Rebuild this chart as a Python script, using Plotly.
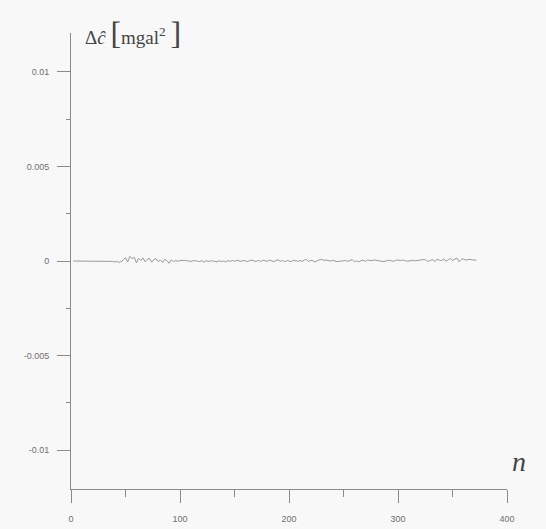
import plotly.graph_objects as go

# Spherical harmonic degree n (even degrees sampled)
degrees = list(range(2, 374, 2))

# Difference of degree variances, in units of 1e-4 mgal^2
delta_c_e4 = [
    0, 0, 0, 0, 0, 0, 0, 0, 0, 0, 0, 0, 0, 0, 0, 0, 0, 0,
    -0.2, -0.5, -0.2, -0.7, -0.3, 0.6,
    1.8, -0.5, 2.5, 1.2, 2.0, -1.0,
    1.5, 0.3, 1.6, -0.4, 0.9, 1.4, -0.6, 0.8, 1.2, -0.3,
    0.5, -0.8, 0.9, 0.2, -1.2, 0.6, -0.3, 0.4, -0.2, 0.3,
    0.1, 0.3, 0.2, 0.0, -0.2, 0.1, 0.2, -0.1, -0.3, 0.2, -0.6, 0.1, -0.2, 0.0, 0.1,
    -0.2, -0.4, 0.1, -0.3, 0.0, -0.4, 0.2, -0.2, 0.3, -0.1, 0.4, 0.0, -0.2, 0.3, 0.1, -0.3, 0.2, 0.5, 0.0, -0.2,
    0.3, -0.3, 0.4, 0.2, -0.2, 0.5, 0.1, -0.3, 0.2, 0.6, -0.1, 0.3, -0.4, 0.2, 0.0, -0.3, 0.4, 0.1, -0.2, 0.3,
    -0.2, 0.5, 0.8, -0.3, 0.4, 0.1, -0.5, 0.2, 0.6, 0.9, 0.3, 0.5, 0.2, 0.0, 0.3, -0.1, -0.3, -0.2, -0.1, 0.2,
    0.3, -0.2, 0.4, 0.8, -0.4, 0.1, -0.5, 0.2, 0.4, -0.2, 0.5, 0.3, 0.1, 0.6, 0.4, -0.1, 0.0, -0.3, -0.1, 0.2,
    0.4, 0.1, -0.2, 0.3, 0.6, 0.2, 0.5, 0.3, -0.1, 0.0, 0.2, 0.4, 0.1, 0.3, 0.2, 0.5, 0.8, 0.3, -0.2, 0.4,
    0.7, -0.3, 1.0, 0.4, 0.2, 1.2, -0.2, 0.6, 1.4, 0.3, 0.8, 1.6, -0.4, 0.9, 1.1, 0.5, 0.7, 0.9, 0.6, 0.5, 0.4,
]
UNIT = 1e-4
delta_c = [v * UNIT for v in delta_c_e4]

x_ticks = [0, 100, 200, 300, 400]
x_tick_labels = ["0", "100", "200", "300", "400"]
y_ticks = [0.01, 0.005, 0, -0.005, -0.01]
y_tick_labels = ["0.01", "0.005", "0", "-0.005", "-0.01"]

AXIS_GREY = "#8a8a8a"
LABEL_GREY = "#707070"
TITLE_GREY = "#454545"

fig = go.Figure()
fig.add_trace(go.Scatter(
    x=degrees, y=delta_c, mode="lines",
    line=dict(color="#9a9a9a", width=1),
    showlegend=False, hoverinfo="skip",
))

fig.update_layout(
    width=546, height=529,
    margin=dict(l=71, r=39, t=33, b=40),
    paper_bgcolor="#f8f8f8", plot_bgcolor="#f8f8f8",
    font=dict(family="Liberation Sans, Arial", size=9, color=LABEL_GREY),
    xaxis=dict(
        range=[0, 400], showgrid=False, zeroline=False, automargin=False,
        showline=True, linecolor=AXIS_GREY, linewidth=1,
        ticks="outside", ticklen=13, tickcolor=AXIS_GREY, tickwidth=1,
        tickvals=x_ticks, ticktext=x_tick_labels,
        minor=dict(ticks="outside", ticklen=7, dtick=50, tick0=0, tickcolor=AXIS_GREY),
        tickfont=dict(size=9, color=LABEL_GREY),
        ticklabelstandoff=8,
        fixedrange=True,
    ),
    yaxis=dict(
        range=[-0.01206, 0.01206], showgrid=False, zeroline=False, automargin=False,
        showline=True, linecolor=AXIS_GREY, linewidth=1,
        ticks="outside", ticklen=13, tickcolor=AXIS_GREY, tickwidth=1,
        tickvals=y_ticks, ticktext=y_tick_labels,
        minor=dict(ticks="outside", ticklen=4, dtick=0.0025, tick0=0, tickcolor=AXIS_GREY),
        tickfont=dict(size=9, color=LABEL_GREY),
        ticklabelstandoff=6,
        fixedrange=True,
    ),
    annotations=[
        # vertical axis title above the plot
        dict(
            x=0.027, y=1.0, xref="paper", yref="paper",
            xanchor="left", yanchor="middle", showarrow=False,
            text="Δ<i>ĉ</i> <span style='font-size:32px'>[</span>mgal<sup>2</sup> "
                 "<span style='font-size:32px'>]</span>",
            font=dict(family="Liberation Serif, Times New Roman", size=19, color=TITLE_GREY),
        ),
        # horizontal axis title at the lower right
        dict(
            x=1.028, y=0.061, xref="paper", yref="paper",
            xanchor="center", yanchor="middle", showarrow=False,
            text="<i>n</i>",
            font=dict(family="Liberation Serif, Times New Roman", size=28, color=TITLE_GREY),
        ),
    ],
)

fig.write_html("out.html")
